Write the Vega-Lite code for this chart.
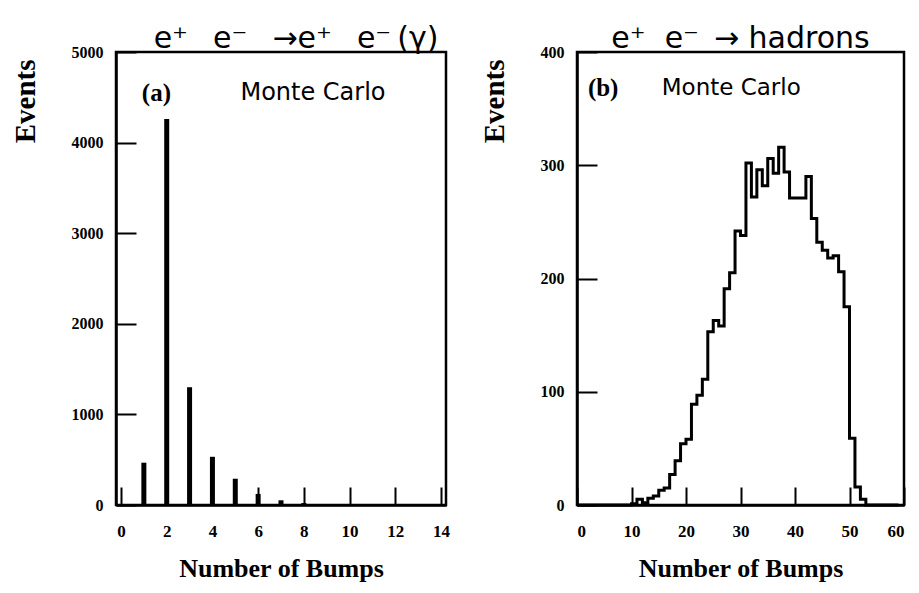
{
  "$schema": "https://vega.github.io/schema/vega-lite/v6.json",
  "background": "white",
  "padding": {"left": 9, "top": 22, "right": 5, "bottom": 5},
  "spacing": 27,
  "config": {
    "view": {"stroke": "black", "strokeWidth": 2.5},
    "axis": {
      "grid": false,
      "domainColor": "black",
      "domainWidth": 2.5,
      "tickColor": "black",
      "tickWidth": 2,
      "labelFont": "Liberation Serif",
      "labelFontWeight": "bold",
      "labelColor": "black",
      "titleFont": "Liberation Serif",
      "titleFontWeight": "bold",
      "titleColor": "black",
      "titleFontSize": 26,
      "format": "d"
    },
    "axisX": {"labelPadding": 36, "labelFontSize": 17, "titlePadding": 16, "zindex": 2, "tickColor": "black"},
    "axisY": {"labelPadding": 33, "labelFontSize": 16, "titlePadding": 31, "titleAnchor": "end", "titleFontSize": 29, "titleY": 7, "zindex": 2, "tickColor": "black", "ticks": true},
    "title": {"font": "DejaVu Sans", "fontSize": 30, "fontWeight": "normal", "color": "black", "offset": -10, "anchor": "middle"}
  },
  "datasets": {
    "bumpsBhabha": [
      {"bumps": 1, "events": 467},
      {"bumps": 2, "events": 4260},
      {"bumps": 3, "events": 1300},
      {"bumps": 4, "events": 532},
      {"bumps": 5, "events": 290},
      {"bumps": 6, "events": 122},
      {"bumps": 7, "events": 52},
      {"bumps": 8, "events": 22},
      {"bumps": 9, "events": 8}
    ],
    "bumpsHadrons": [
      {"bumps": 0, "events": 0}, {"bumps": 1, "events": 0}, {"bumps": 2, "events": 0},
      {"bumps": 3, "events": 0}, {"bumps": 4, "events": 0}, {"bumps": 5, "events": 0},
      {"bumps": 6, "events": 0}, {"bumps": 7, "events": 0}, {"bumps": 8, "events": 0},
      {"bumps": 9, "events": 0}, {"bumps": 10, "events": 1}, {"bumps": 11, "events": 5},
      {"bumps": 12, "events": 2}, {"bumps": 13, "events": 6}, {"bumps": 14, "events": 8},
      {"bumps": 15, "events": 13}, {"bumps": 16, "events": 15}, {"bumps": 17, "events": 27},
      {"bumps": 18, "events": 39}, {"bumps": 19, "events": 54}, {"bumps": 20, "events": 58},
      {"bumps": 21, "events": 89}, {"bumps": 22, "events": 97}, {"bumps": 23, "events": 111},
      {"bumps": 24, "events": 153}, {"bumps": 25, "events": 163}, {"bumps": 26, "events": 158},
      {"bumps": 27, "events": 191}, {"bumps": 28, "events": 205}, {"bumps": 29, "events": 242},
      {"bumps": 30, "events": 238}, {"bumps": 31, "events": 302}, {"bumps": 32, "events": 272},
      {"bumps": 33, "events": 296}, {"bumps": 34, "events": 282}, {"bumps": 35, "events": 306},
      {"bumps": 36, "events": 293}, {"bumps": 37, "events": 316}, {"bumps": 38, "events": 294},
      {"bumps": 39, "events": 271}, {"bumps": 40, "events": 271}, {"bumps": 41, "events": 271},
      {"bumps": 42, "events": 290}, {"bumps": 43, "events": 253}, {"bumps": 44, "events": 232},
      {"bumps": 45, "events": 225}, {"bumps": 46, "events": 218}, {"bumps": 47, "events": 220},
      {"bumps": 48, "events": 206}, {"bumps": 49, "events": 175}, {"bumps": 50, "events": 59},
      {"bumps": 51, "events": 16}, {"bumps": 52, "events": 5}, {"bumps": 53, "events": 0},
      {"bumps": 54, "events": 0}, {"bumps": 55, "events": 0}, {"bumps": 56, "events": 0},
      {"bumps": 57, "events": 0}, {"bumps": 58, "events": 0}, {"bumps": 59, "events": 0}
    ]
  },
  "hconcat": [
    {
      "width": 330,
      "height": 453,
      "title": {"text": "e⁺\u2007\u2009e⁻\u2007\u2009→e⁺\u2007\u2009e⁻\u2009(γ)", "dx": 15},
      "layer": [
        {
          "data": {"name": "bumpsBhabha"},
          "mark": {"type": "bar", "color": "black", "width": 5},
          "encoding": {
            "x": {"field": "bumps", "type": "quantitative", "scale": {"domain": [0, 14], "nice": false},
                  "axis": {"values": [0, 2, 4, 6, 8, 10, 12, 14], "title": "Number of Bumps", "tickSize": -18, "zindex": 2}},
            "y": {"field": "events", "type": "quantitative", "scale": {"domain": [0, 5000], "nice": false},
                  "axis": {"values": [0, 1000, 2000, 3000, 4000, 5000], "title": "Events", "tickSize": -20, "zindex": 2, "ticks": true, "tickColor": "black", "tickWidth": 2}}
          }
        },
        {
          "data": {"values": [{"label": "(a)"}]},
          "mark": {"type": "text", "font": "Liberation Serif", "fontWeight": "bold", "fontSize": 25, "color": "black"},
          "encoding": {"x": {"datum": 1.55, "type": "quantitative"}, "y": {"datum": 4550, "type": "quantitative"}, "text": {"field": "label"}}
        },
        {
          "data": {"values": [{"label": "Monte Carlo"}]},
          "mark": {"type": "text", "font": "DejaVu Sans", "fontSize": 24, "color": "black"},
          "encoding": {"x": {"datum": 8.4, "type": "quantitative"}, "y": {"datum": 4550, "type": "quantitative"}, "text": {"field": "label"}}
        }
      ]
    },
    {
      "width": 327,
      "height": 453,
      "title": {"text": "e⁺\u2007e⁻\u2002→ hadrons"},
      "layer": [
        {
          "data": {"name": "bumpsHadrons"},
          "mark": {"type": "line", "color": "black", "strokeWidth": 3, "interpolate": "step-after"},
          "encoding": {
            "x": {"field": "bumps", "type": "quantitative", "scale": {"domain": [0, 60], "nice": false},
                  "axis": {"values": [0, 10, 20, 30, 40, 50, 60], "title": "Number of Bumps", "tickSize": -18, "zindex": 2}},
            "y": {"field": "events", "type": "quantitative", "scale": {"domain": [0, 400], "nice": false},
                  "axis": {"values": [0, 100, 200, 300, 400], "title": "Events", "tickSize": -20, "zindex": 2, "ticks": true, "tickColor": "black", "tickWidth": 2}}
          }
        },
        {
          "data": {"values": [{"label": "(b)"}]},
          "mark": {"type": "text", "font": "Liberation Serif", "fontWeight": "bold", "fontSize": 25, "color": "black"},
          "encoding": {"x": {"datum": 4.8, "type": "quantitative"}, "y": {"datum": 368, "type": "quantitative"}, "text": {"field": "label"}}
        },
        {
          "data": {"values": [{"label": "Monte Carlo"}]},
          "mark": {"type": "text", "font": "DejaVu Sans", "fontSize": 23, "color": "black"},
          "encoding": {"x": {"datum": 28.3, "type": "quantitative"}, "y": {"datum": 368, "type": "quantitative"}, "text": {"field": "label"}}
        }
      ]
    }
  ]
}
